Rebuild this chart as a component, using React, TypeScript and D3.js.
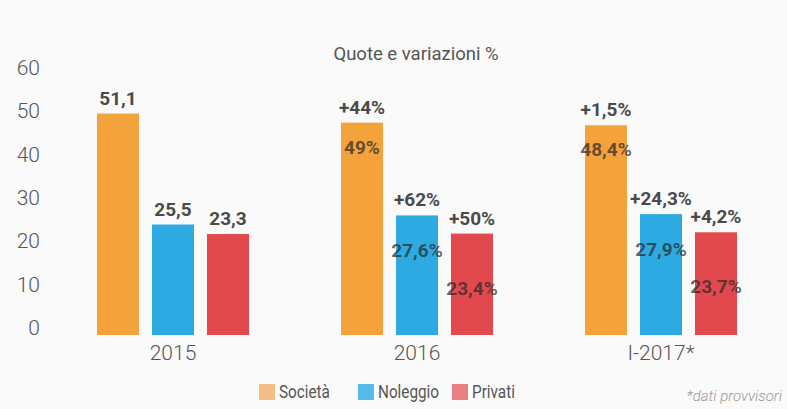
import React, { useEffect } from "react";
import * as d3 from "d3";

// data
const periods = ["2015", "2016", "I-2017*"];
const series = ["Società", "Noleggio", "Privati"];
const shares = [
  [51.1, 25.5, 23.3],
  [49, 27.6, 23.4],
  [48.4, 27.9, 23.7],
];
const topLabels = [
  ["51,1", "25,5", "23,3"],
  ["+44%", "+62%", "+50%"],
  ["+1,5%", "+24,3%", "+4,2%"],
];
const insideLabels = [
  ["", "", ""],
  ["49%", "27,6%", "23,4%"],
  ["48,4%", "27,9%", "23,7%"],
];
const yTicks = [0, 10, 20, 30, 40, 50, 60];

const colors = ["#f4a23c", "#2eaae3", "#e2494e"];
const legendColors = ["#f5bd88", "#55bbea", "#e98082"];

const W = 787;
const H = 409;

const App = () => {
  useEffect(() => {
    document.body.style.margin = "0";
    document.body.style.background = "#fafafa";
  }, []);

  const y = d3.scaleLinear().domain([0, 60]).range([335, 75]);
  const x0 = d3
    .scaleBand()
    .domain(periods)
    .range([51, 783])
    .paddingInner(0.377)
    .paddingOuter(0.1885);
  const x1 = d3
    .scaleBand()
    .domain(series)
    .range([0, x0.bandwidth()])
    .paddingInner(0.236)
    .paddingOuter(0);

  // how far below the bar top the share label sits (per series)
  const insideOffset = [31, 42, 61];
  const legendX = [259, 358, 452];

  const font = "Roboto, sans-serif";

  return (
    <svg width={W} height={H} style={{ display: "block", background: "#fafafa" }}>
      <text
        x={416}
        y={60}
        textAnchor="middle"
        fontFamily={font}
        fontSize={18.5}
        fill="#555"
      >
        Quote e variazioni %
      </text>

      {/* y axis labels */}
      <g fontFamily={font} fontSize={21} fontWeight={300} fill="#555">
        {yTicks.map((t) => (
          <text key={t} x={40} y={y(t)} textAnchor="end">
            {t}
          </text>
        ))}
      </g>

      {periods.map((p, i) => (
        <g key={p} transform={`translate(${x0(p)},0)`}>
          {series.map((s, j) => {
            const v = shares[i][j];
            const bx = x1(s)!;
            const cx = bx + x1.bandwidth() / 2;
            return (
              <g key={s}>
                <rect
                  x={bx}
                  y={y(v)}
                  width={x1.bandwidth()}
                  height={y(0) - y(v)}
                  fill={colors[j]}
                />
                <text
                  x={cx}
                  y={y(v) - 9}
                  textAnchor="middle"
                  fontFamily={font}
                  fontSize={19}
                  fontWeight={700}
                  fill="#4a4a4a"
                >
                  {topLabels[i][j]}
                </text>
                {insideLabels[i][j] && (
                  <text
                    x={cx}
                    y={y(v) + insideOffset[j]}
                    textAnchor="middle"
                    fontFamily={font}
                    fontSize={19}
                    fontWeight={700}
                    fill="#2a2a2a"
                    fillOpacity={0.72}
                  >
                    {insideLabels[i][j]}
                  </text>
                )}
              </g>
            );
          })}
          <text
            x={x0.bandwidth() / 2}
            y={y(0) + 25}
            textAnchor="middle"
            fontFamily={font}
            fontSize={21}
            fontWeight={300}
            fill="#555"
          >
            {p}
          </text>
        </g>
      ))}

      {/* legend */}
      <g fontFamily={font} fontSize={18} fill="#555">
        {series.map((s, j) => (
          <g key={s} transform={`translate(${legendX[j]},384)`}>
            <rect x={0} y={0} width={16} height={16} fill={legendColors[j]} />
            <text
              x={20}
              y={14}
              transform="translate(20,0) scale(0.85,1) translate(-20,0)"
            >
              {s}
            </text>
          </g>
        ))}
      </g>
      <text
        x={782}
        y={401}
        textAnchor="end"
        fontFamily={font}
        fontSize={15}
        fontStyle="italic"
        fontWeight={300}
        fill="#999"
      >
        *dati provvisori
      </text>
    </svg>
  );
};

export default App;
